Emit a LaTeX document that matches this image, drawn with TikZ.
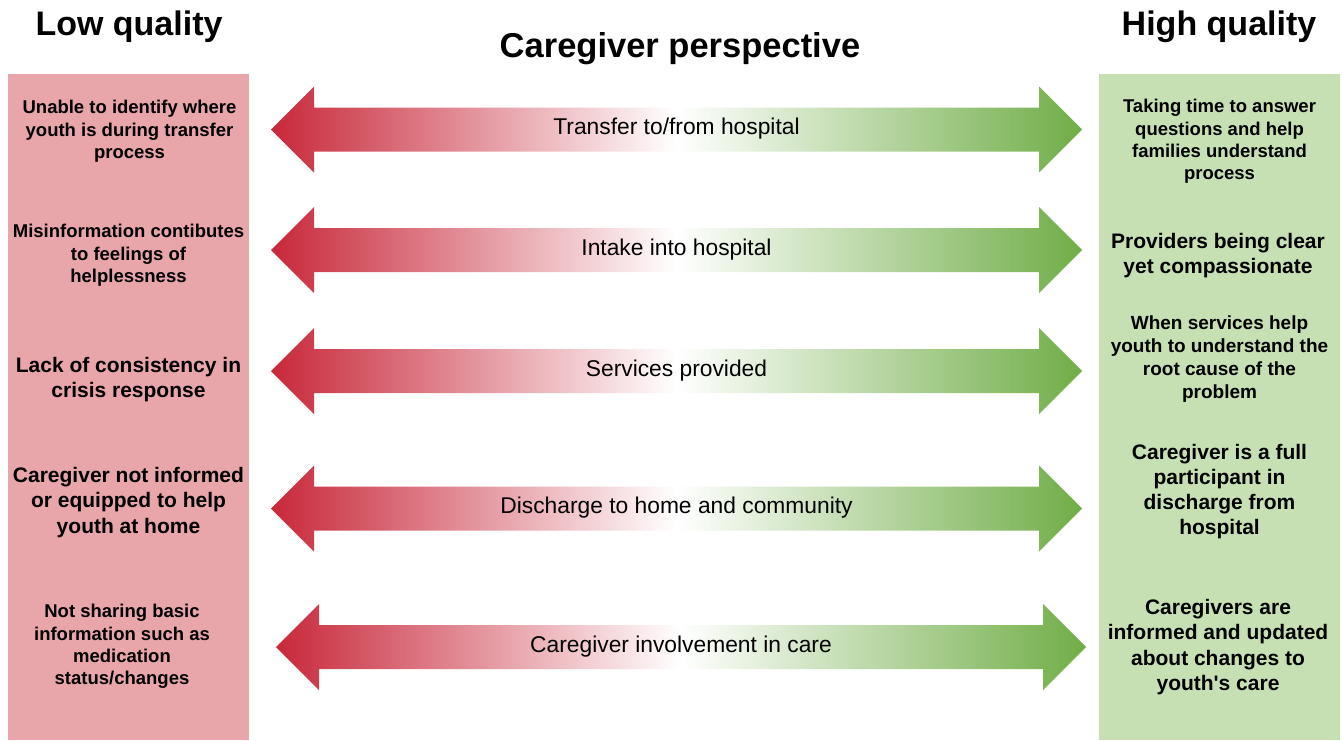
\documentclass[tikz,border=0pt]{standalone}
\usepackage{fontspec}
\setmainfont{Liberation Sans}
\definecolor{lowfill}{HTML}{E8A5AA}
\definecolor{highfill}{HTML}{C6E0B4}
\definecolor{arrowred}{HTML}{C8283A}
\definecolor{arrowgreen}{HTML}{70AD47}

% double-headed shaded arrow: name, left tip x, right tip x, centre y, label
\newcommand{\qualityarrow}[5]{%
  \shade[left color=arrowred, right color=arrowgreen, middle color=white]
    (#2,#4) -- ({#2+43},{#4-43}) -- ({#2+43},{#4-22}) -- ({#3-43},{#4-22})
    -- ({#3-43},{#4-43}) -- (#3,#4) -- ({#3-43},{#4+43}) -- ({#3-43},{#4+22})
    -- ({#2+43},{#4+22}) -- ({#2+43},{#4+43}) -- cycle;
  \node[arrowlabel] (#1) at ({(#2+#3)/2},{#4-0.5}) {#5};}

\begin{document}
\begin{tikzpicture}[x=1pt,y=-1pt,
  panel/.style={draw=none, inner sep=0pt, minimum width=241pt, minimum height=666pt},
  heading/.style={font=\fontsize{34}{40}\selectfont\bfseries, inner sep=0pt},
  arrowlabel/.style={font=\fontsize{22.8}{26}\selectfont, inner sep=0pt},
  smalltext/.style={font=\fontsize{18.5}{22.3}\selectfont\bfseries, align=center, inner sep=0pt},
  midtext/.style={font=\fontsize{19}{23}\selectfont\bfseries, align=center, inner sep=0pt},
  bigtext/.style={font=\fontsize{21}{25.2}\selectfont\bfseries, align=center, inner sep=0pt}]
\useasboundingbox (0,0) rectangle (1343,740);

% side panels
\node[panel, fill=lowfill] (lowpanel) at (128.5,407) {};
\node[panel, fill=highfill] (highpanel) at (1219.5,407) {};

% headings
\node[heading] (lowtitle) at (129,27) {Low quality};
\node[heading] (hightitle) at (1219,27) {High quality};
\node[heading, font=\fontsize{34.5}{40}\selectfont\bfseries] (midtitle) at (680,49) {Caregiver perspective};

% arrows across the middle
\qualityarrow{transfer}{271}{1082}{129.5}{Transfer to/from hospital}
\qualityarrow{intake}{271}{1082}{250}{Intake into hospital}
\qualityarrow{services}{271}{1082}{371}{Services provided}
\qualityarrow{discharge}{271}{1082}{508.5}{Discharge to home and community}
\qualityarrow{involvement}{276}{1086}{647}{Caregiver involvement in care}

% low quality statements
\node[smalltext] (low1) at (129.5,131.5) {Unable to identify where\\youth is during transfer\\process};
\node[smalltext] (low2) at (128.5,255.5) {Misinformation contibutes\\to feelings of\\helplessness};
\node[bigtext] (low3) at (128.5,379.5) {Lack of consistency in\\crisis response};
\node[bigtext] (low4) at (128.5,502.5) {Caregiver not informed\\or equipped to help\\youth at home};
\node[smalltext] (low5) at (122,646.5) {Not sharing basic\\information such as\\medication\\status/changes};

% high quality statements
\node[smalltext] (high1) at (1219.5,141.5) {Taking time to answer\\questions and help\\families understand\\process};
\node[bigtext] (high2) at (1218,255.5) {Providers being clear\\yet compassionate};
\node[midtext] (high3) at (1219.5,359.5) {When services help\\youth to understand the\\root cause of the\\problem};
\node[bigtext] (high4) at (1219.5,491.5) {Caregiver is a full\\participant in\\discharge from\\hospital};
\node[bigtext] (high5) at (1218,647) {Caregivers are\\informed and updated\\about changes to\\youth\textquotesingle s care};
\end{tikzpicture}
\end{document}
